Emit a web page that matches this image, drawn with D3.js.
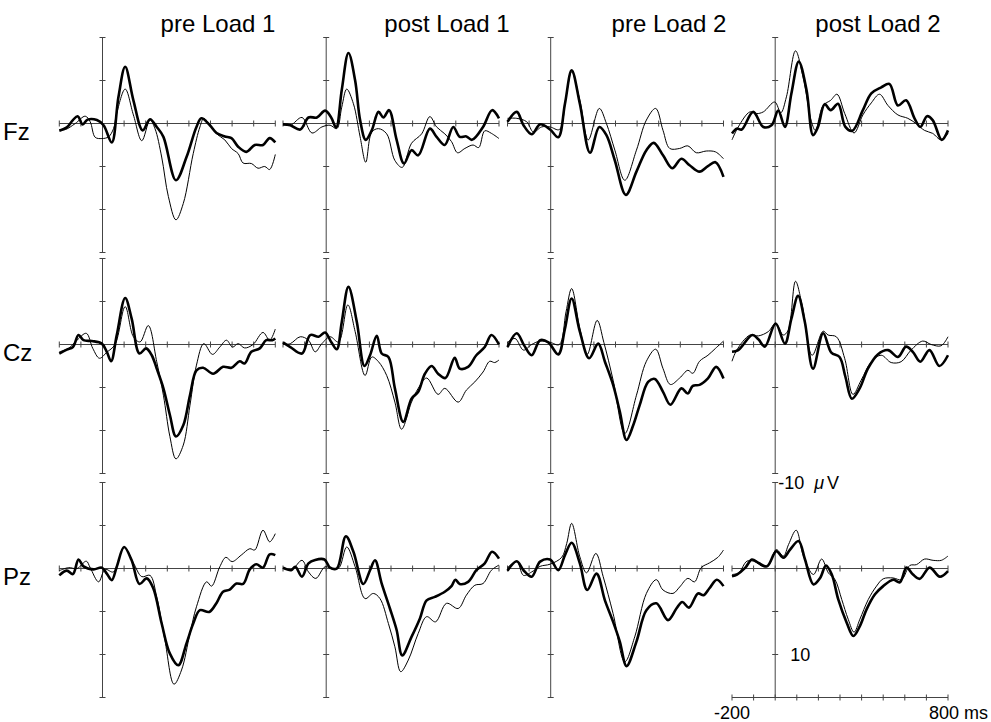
<!DOCTYPE html>
<html>
<head>
<meta charset="utf-8">
<script src="https://cdn.jsdelivr.net/npm/d3@7"></script>
<style>
  body { margin: 0; background: #fff; }
  svg text { font-family: Arial, "Liberation Sans", sans-serif; fill: #000; }
</style>
</head>
<body>
<svg id="erp" width="991" height="722"></svg>
<script>
// conditions (columns) and electrodes (rows)
let conditions = ['pre Load 1', 'post Load 1', 'pre Load 2', 'post Load 2'];
let channels = ['Fz', 'Cz', 'Pz'];

let xTickValues = [-200, -100, 0, 100, 200, 300, 400, 500, 600, 700, 800];
let yTickValues = [-10, -5, 0, 5, 10, 15];

// waveforms as [ms, µV] (negative plotted up)
let fzPre1Thick = [[-200,0.85],[-165,0.45],[-137,-0.4],[-115,-0.85],[-92,0.1],[-69,-0.45],[-26,-0.4],[5,0.2],[43,2.2],[74,-3.1],[105,-6.6],[143,-2.7],[186,0.8],[220,-0.5],[251,0.4],[282,1.55],[340,6.6],[389,3.9],[435,0.4],[458,-0.6],[497,0.2],[528,1.1],[566,1.5],[597,1.7],[628,2.7],[666,3.3],[705,2.5],[743,2.5],[774,1.7],[800,2.2]];
let fzPre1Thin = [[-200,0.7],[-172,0.7],[-126,0],[-80,-0.85],[-57,-0.2],[-34,1.6],[-3,1.75],[28,1.55],[51,0.6],[66,-1.2],[105,-4.0],[143,-1.0],[182,2.0],[220,-0.4],[243,0.6],[274,3.9],[305,8.5],[340,11.2],[374,9.3],[420,3.5],[451,0.4],[469,-0.6],[497,0.2],[528,1.2],[566,1.9],[597,2.9],[628,3.5],[651,4.6],[689,4.65],[720,5.2],[751,5.0],[774,5.35],[800,3.6]];

let fzPost1Thick = [[-200,0.1],[-166,0.2],[-120,0.7],[-82,-0.7],[-43,-0.7],[-5,-1.5],[23,-0.7],[46,0.45],[72,-3.9],[103,-8.2],[134,-5.0],[157,-0.4],[183,1.9],[211,0.8],[242,-1.35],[265,-0.7],[291,-1.55],[326,1.9],[360,4.65],[395,3.1],[426,3.7],[480,0.6],[511,1.55],[549,2.5],[588,0.4],[618,1.55],[649,1.5],[675,1.9],[726,0.4],[768,-1.55],[800,-0.6]];
let fzPost1Thin = [[-200,0],[-166,0.2],[-112,-0.7],[-66,1.1],[-20,0.4],[18,0.2],[49,0.6],[72,-1.9],[95,-4.0],[126,-2.3],[157,1.55],[183,4.5],[211,1.0],[242,0.6],[280,1.2],[318,4.3],[352,5.1],[395,2.3],[442,1.2],[480,-0.8],[511,0.4],[549,1.2],[580,2.1],[608,3.4],[642,2.9],[680,2.5],[706,2.8],[734,0.85],[765,1.15],[800,1.75]];

let fzPre2Thick = [[-200,-0.2],[-157,-1.35],[-126,0.2],[-88,1.25],[-49,0.1],[-3,0.7],[35,1.6],[66,-2.3],[97,-6.2],[135,-2.3],[182,3.4],[225,0.4],[258,1.35],[297,4.3],[348,8.3],[397,5.6],[443,3.1],[477,2.25],[520,3.7],[563,5.2],[605,4.1],[643,4.85],[689,5.6],[728,4.95],[763,4.5],[800,6.2]];
let fzPre2Thin = [[-200,-0.6],[-157,-0.6],[-111,-0.2],[-80,1.0],[-42,0.4],[-3,0.4],[40,0.7],[71,-3.1],[97,-6.0],[135,-2.7],[174,1.9],[225,-1.75],[258,0],[297,3.1],[343,6.6],[397,3.1],[443,-0.4],[486,-1.75],[520,0.8],[551,2.9],[597,2.9],[635,2.6],[674,3.4],[720,3.2],[763,3.3],[800,4.1]];

let fzPost2Thick = [[-200,1.15],[-178,0.6],[-155,0.7],[-102,-1.35],[-55,0.4],[-17,0.2],[14,-1.5],[45,0.4],[75,-3.5],[109,-7.2],[145,-3.9],[175,1.35],[198,0.4],[229,-2.25],[257,-1.55],[291,-2.3],[325,0.4],[357,0.85],[406,-1.55],[445,-3.5],[491,-4.2],[529,-4.6],[568,-2.1],[606,-2.7],[645,-0.6],[672,0.4],[703,-0.85],[729,-0.4],[771,1.9],[800,0.8]];
let fzPost2Thin = [[-200,1.9],[-171,0.4],[-117,-1.35],[-86,-1.15],[-55,-1.35],[-2,-2.5],[26,-1.25],[52,-3.1],[94,-8.45],[129,-5.4],[168,-0.2],[186,0.8],[222,-2.1],[257,-2.7],[286,-3.4],[322,-1.15],[365,1.1],[406,-1.0],[445,-2.4],[483,-3.4],[522,-2.1],[568,-1.0],[614,-0.6],[652,0],[691,0.8],[729,1.15],[768,1.9],[800,1.15]];

let czPre1Thick = [[-200,1.05],[-165,0.6],[-137,0.3],[-111,-1.1],[-88,-0.5],[-49,-0.4],[-3,-0.1],[20,0.85],[40,1.95],[66,-1.1],[105,-5.4],[135,-3.0],[171,1.05],[202,0.45],[228,1.25],[251,2.8],[282,5.1],[312,8.2],[340,10.7],[374,9.4],[405,5.9],[435,3.0],[466,2.7],[512,3.4],[558,2.6],[597,2.7],[635,1.95],[658,2.2],[689,0.85],[728,0.45],[758,-0.5],[786,-0.5],[800,-0.7]];
let czPre1Thin = [[-200,0.85],[-157,0.45],[-118,-0.5],[-75,-1.3],[-45,0.45],[-14,1.6],[20,0.9],[58,0],[105,-4.4],[143,-0.9],[174,-0.3],[212,-2.2],[251,2.0],[282,5.9],[312,10.7],[340,13.3],[374,11.7],[405,7.05],[435,2.4],[469,-0.1],[509,1.15],[543,0.3],[574,-0.5],[602,0.3],[628,-0.1],[658,0.4],[697,0],[743,-1.4],[774,-0.5],[800,-1.8]];

let czPost1Thick = [[-200,-0.25],[-166,0.3],[-112,1.05],[-74,-1.1],[-35,-0.9],[-5,-1.4],[23,-0.3],[49,0.55],[72,-2.6],[103,-6.7],[142,-2.6],[177,2.5],[203,1.25],[234,-1.0],[257,1.05],[288,1.45],[318,5.1],[357,9.0],[395,6.3],[426,5.5],[457,3.4],[488,2.5],[518,3.4],[552,3.9],[595,1.55],[618,2.8],[657,2.6],[695,1.25],[734,0.3],[765,-1.1],[800,0]];
let czPost1Thin = [[-200,0],[-166,-0.1],[-120,-0.9],[-82,-0.5],[-51,0.85],[-20,-0.1],[18,-0.9],[57,-0.3],[100,-4.6],[134,-1.5],[180,3.6],[211,1.45],[242,2.0],[280,3.6],[318,6.7],[349,9.85],[395,6.7],[426,5.1],[465,3.9],[518,5.8],[549,5.1],[611,6.7],[649,5.3],[688,4.35],[726,3.2],[757,1.95],[780,2.1],[800,1.8]];

let czPre2Thick = [[-200,0.3],[-157,-1.3],[-123,0.1],[-88,1.25],[-49,-0.5],[-11,-0.25],[35,1.15],[66,-1.85],[97,-5.35],[135,-1.5],[178,1.6],[220,-0.1],[251,2.0],[289,4.7],[320,7.8],[351,11.1],[382,9.4],[412,7.05],[451,4.35],[482,4.0],[520,5.5],[554,7.0],[605,5.1],[635,5.7],[658,4.8],[689,4.7],[728,3.95],[766,2.6],[800,3.95]];
let czPre2Thin = [[-200,-0.25],[-165,-0.7],[-126,0.65],[-88,0],[-49,-0.4],[-3,-0.25],[40,0],[71,-3.8],[97,-6.5],[135,-1.85],[169,1.15],[215,-2.8],[246,-0.25],[289,4.15],[343,10.35],[397,5.9],[443,1.95],[486,0.55],[520,2.8],[554,4.65],[597,3.9],[635,3.0],[658,3.35],[689,1.95],[728,1.25],[763,0.45],[800,-0.4]];

let czPost2Thick = [[-200,0.85],[-171,0.65],[-106,-1.1],[-78,-0.6],[-48,0.25],[2,-2.45],[45,-0.1],[75,-3.0],[106,-5.65],[137,-2.65],[175,2.8],[222,-1.3],[260,0.95],[298,1.45],[325,3.75],[355,6.3],[391,5.1],[429,2.8],[475,1.15],[522,0.65],[568,1.45],[606,0.25],[637,0.85],[672,2.0],[714,0.65],[760,2.5],[800,1.25]];
let czPost2Thin = [[-200,1.95],[-178,0.65],[-117,-1.1],[-78,-1.0],[-32,-1.5],[2,-2.45],[37,-1.1],[60,-1.65],[94,-7.35],[125,-4.55],[171,1.25],[222,-1.55],[245,-1.1],[283,-0.9],[322,1.65],[360,5.8],[398,4.15],[445,2.0],[491,1.25],[537,2.1],[583,2.0],[629,0.65],[683,-0.4],[722,0],[768,0.15],[800,-0.9]];

let pzPre1Thick = [[-200,0.8],[-165,0.25],[-137,0.65],[-111,-1.05],[-88,-0.25],[-42,0.1],[-3,-0.1],[20,0.6],[43,1.35],[66,-0.2],[100,-2.5],[135,-0.95],[171,1.8],[205,1.15],[235,2.3],[274,6.4],[312,9.9],[351,11.25],[389,8.7],[420,6.4],[451,4.85],[494,5.05],[528,4.0],[558,2.7],[589,2.45],[620,1.75],[651,1.8],[682,0.1],[712,-0.5],[743,-0.1],[774,-1.65],[800,-1.55]];
let pzPre1Thin = [[-200,0.25],[-157,-0.1],[-118,0],[-75,-0.85],[-57,-0.1],[-18,1.55],[12,0.1],[51,0.4],[100,-2.45],[143,-0.65],[182,0.95],[220,0.8],[251,3.3],[289,8.35],[331,13.45],[366,11.8],[405,7.55],[435,4.45],[482,1.55],[505,2.05],[543,-0.2],[571,-1.3],[600,-0.8],[642,-1.55],[682,-2.3],[705,-2.15],[743,-4.45],[774,-3.1],[800,-4.05]];

let pzPost1Thick = [[-200,-0.1],[-162,0.2],[-143,-0.2],[-112,0.95],[-82,-0.6],[-51,-1.0],[-8,-1.05],[18,-0.1],[49,0],[91,-3.75],[126,-1.95],[172,1.8],[203,0.2],[226,-0.95],[257,1.75],[295,4.65],[326,7.15],[352,10.1],[395,7.95],[434,5.8],[465,3.7],[503,3.3],[549,2.7],[580,2.05],[598,1.3],[618,1.8],[657,1.55],[695,0.2],[734,-0.6],[768,-1.95],[800,-1.15]];
let pzPost1Thin = [[-200,0],[-158,0.1],[-112,-0.95],[-82,0.4],[-48,1.15],[-5,-0.2],[34,0.1],[60,-0.1],[95,-2.5],[134,-0.2],[180,3.5],[218,2.9],[249,3.5],[288,6.4],[318,9.1],[345,12.0],[380,10.65],[426,7.55],[465,5.6],[506,6.2],[557,4.05],[611,4.65],[649,3.1],[688,1.95],[726,1.75],[765,0.2],[800,-0.4]];

let pzPre2Thick = [[-200,0.25],[-157,-0.85],[-126,0.2],[-88,0.95],[-49,-0.8],[-3,-1.05],[35,0.2],[66,-1.55],[97,-3.0],[135,-0.6],[169,2.5],[212,0.6],[251,3.7],[289,6.2],[320,8.5],[351,11.35],[397,8.5],[443,4.85],[489,4.05],[543,6.0],[582,4.65],[609,3.9],[640,4.55],[682,2.9],[708,3.1],[735,2.3],[769,1.3],[800,2.05]];
let pzPre2Thin = [[-200,-0.1],[-157,-0.8],[-126,0.8],[-88,0.4],[-49,-0.25],[-3,-0.5],[51,-1.3],[74,-2.9],[97,-5.25],[135,-1.35],[166,0.5],[209,-1.75],[243,0.95],[289,5.25],[343,10.85],[389,7.95],[443,2.9],[489,1.3],[520,2.5],[566,2.9],[597,2.15],[635,1.15],[666,1.55],[697,-0.1],[735,-0.65],[774,-1.3],[800,-2.15]];

let pzPost2Thick = [[-200,0.9],[-177,0.7],[-138,-0.1],[-108,-1.05],[-77,-0.65],[-38,-0.25],[5,-2.0],[38,-1.25],[69,-2.2],[108,-3.2],[138,-1.05],[177,1.85],[208,1.1],[235,-0.35],[262,0.7],[292,3.6],[331,6.3],[362,7.85],[392,6.7],[423,4.75],[462,3.0],[500,2.05],[546,1.3],[577,1.6],[608,-0.1],[638,0.7],[669,1.2],[715,-0.1],[762,0.95],[800,0.3]];
let pzPost2Thin = [[-200,0.7],[-169,0.5],[-131,-0.85],[-100,-0.85],[-54,-0.2],[-31,-0.35],[5,-2.2],[38,-1.45],[62,-2.8],[97,-4.45],[131,-1.45],[177,0.7],[215,-1.1],[246,0.5],[277,1.3],[308,3.6],[338,5.9],[365,7.4],[392,5.9],[431,3.6],[469,2.05],[500,1.2],[546,1.1],[585,1.3],[623,-0.35],[654,-0.45],[692,-1.1],[731,-0.95],[769,-0.95],[800,-1.45]];

// rows: channels, columns: conditions
let thickSeries = [
  [fzPre1Thick, fzPost1Thick, fzPre2Thick, fzPost2Thick],
  [czPre1Thick, czPost1Thick, czPre2Thick, czPost2Thick],
  [pzPre1Thick, pzPost1Thick, pzPre2Thick, pzPost2Thick]
];
let thinSeries = [
  [fzPre1Thin, fzPost1Thin, fzPre2Thin, fzPost2Thin],
  [czPre1Thin, czPost1Thin, czPre2Thin, czPost2Thin],
  [pzPre1Thin, pzPost1Thin, pzPre2Thin, pzPost2Thin]
];

// layout
let colLeft = [59.3, 283, 507.5, 732];   // x of -200 ms in each column
let panelW = 216;
let rowBase = [123.5, 344.5, 568.5];      // y of 0 µV in each row
let pxPerUV = 8.6;
let titleX = [218, 447, 669, 878];
let axisCol = '#444';

let svg = d3.select('#erp');

function drawPanel(r, c){
  let x = d3.scaleLinear().domain([-200, 800]).range([colLeft[c], colLeft[c] + panelW]);
  let y = d3.scaleLinear().domain([-10, 15])
    .range([rowBase[r] - 10 * pxPerUV, rowBase[r] + 15 * pxPerUV]);

  let g = svg.append('g').attr('class', 'panel');

  // horizontal axis at 0 µV
  g.append('line')
    .attr('x1', x(-200)).attr('x2', x(800))
    .attr('y1', y(0)).attr('y2', y(0))
    .attr('stroke', axisCol).attr('stroke-width', 1);
  g.selectAll('line.xtick')
    .data(xTickValues)
    .enter()
    .append('line')
    .attr('class', 'xtick')
    .attr('x1', d => x(d)).attr('x2', d => x(d))
    .attr('y1', y(0) - 3).attr('y2', y(0) + 3)
    .attr('stroke', axisCol).attr('stroke-width', 1);

  // vertical axis at 0 ms
  g.append('line')
    .attr('x1', x(0)).attr('x2', x(0))
    .attr('y1', y(-10)).attr('y2', y(15))
    .attr('stroke', axisCol).attr('stroke-width', 1);
  g.selectAll('line.ytick')
    .data(yTickValues)
    .enter()
    .append('line')
    .attr('class', 'ytick')
    .attr('x1', x(0) - 3).attr('x2', x(0) + 3)
    .attr('y1', d => y(d)).attr('y2', d => y(d))
    .attr('stroke', axisCol).attr('stroke-width', 1);

  let line = d3.line()
    .x(d => x(d[0]))
    .y(d => y(d[1]))
    .curve(d3.curveCatmullRom.alpha(0.5));

  g.append('path')
    .datum(thinSeries[r][c])
    .attr('d', line)
    .attr('fill', 'none')
    .attr('stroke', '#000')
    .attr('stroke-width', 1);

  g.append('path')
    .datum(thickSeries[r][c])
    .attr('d', line)
    .attr('fill', 'none')
    .attr('stroke', '#000')
    .attr('stroke-width', 2.6)
    .attr('stroke-linejoin', 'round');

  return {x, y};
}

let scales = [];
channels.forEach((ch, r) => {
  scales[r] = [];
  conditions.forEach((cond, c) => {
    scales[r][c] = drawPanel(r, c);
  });
});

// column titles
svg.selectAll('text.title')
  .data(conditions)
  .enter()
  .append('text')
  .attr('class', 'title')
  .attr('x', (d, i) => titleX[i])
  .attr('y', 32)
  .attr('text-anchor', 'middle')
  .style('font-size', '24px')
  .text(d => d);

// channel labels
svg.selectAll('text.chan')
  .data(channels)
  .enter()
  .append('text')
  .attr('class', 'chan')
  .attr('x', 3)
  .attr('y', (d, i) => rowBase[i] + 16)
  .style('font-size', '24px')
  .text(d => d);

// calibration scale under the last panel
let cal = scales[2][3];
let calY = cal.y(15);
svg.append('line')
  .attr('x1', cal.x(-200)).attr('x2', cal.x(800))
  .attr('y1', calY).attr('y2', calY)
  .attr('stroke', axisCol).attr('stroke-width', 1);
svg.selectAll('line.caltick')
  .data(xTickValues)
  .enter()
  .append('line')
  .attr('class', 'caltick')
  .attr('x1', d => cal.x(d)).attr('x2', d => cal.x(d))
  .attr('y1', calY - 3).attr('y2', calY + 3)
  .attr('stroke', axisCol).attr('stroke-width', 1);

svg.append('text')
  .attr('x', cal.x(-200))
  .attr('y', 719)
  .attr('text-anchor', 'middle')
  .style('font-size', '18px')
  .text('-200');
svg.append('text')
  .attr('x', cal.x(800) - 19)
  .attr('y', 719)
  .style('font-size', '18px')
  .text('800 ms');

let uvLabel = svg.append('text')
  .attr('x', cal.x(0) + 3)
  .attr('y', cal.y(-10) + 6)
  .style('font-size', '18px')
  .attr('xml:space', 'preserve');
uvLabel.append('tspan').text('-10');
uvLabel.append('tspan').attr('dx', 10).style('font-style', 'italic').text('\u03bc');
uvLabel.append('tspan').attr('dx', 3).text('V');

svg.append('text')
  .attr('x', cal.x(0) + 15)
  .attr('y', cal.y(10) + 6)
  .style('font-size', '18px')
  .text('10');
</script>
</body>
</html>
